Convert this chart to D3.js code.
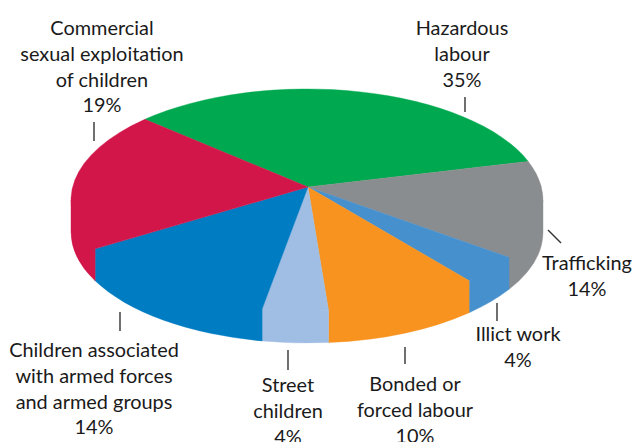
<!DOCTYPE html>
<html><head><meta charset="utf-8">
<script src="https://cdn.jsdelivr.net/npm/d3@7"></script>
<style>html,body{margin:0;padding:0;background:#fff}svg{display:block}</style>
</head><body>
<svg id="c" width="635" height="442"></svg>
<script>
// Clockwise from the green slice.
const categories = ["Hazardous labour","Trafficking","Illict work","Bonded or forced labour","Street children","Children associated with armed forces and armed groups","Commercial sexual exploitation of children"];
// Percentages printed on the chart.
const printedPercent = [35,14,4,10,4,14,19];
// Slice shares as actually drawn in the picture (the artwork differs slightly from its labels).
const drawnShare = [31.4,14.3,4.3,10.6,4.5,14.7,20.2];
const colors = ["#00a94f","#8a8d8f","#4690cd","#f7931e","#a0bee4","#007cc3","#d2164a"];
const labelLines = [["Hazardous","labour"],["Trafficking"],["Illict work"],["Bonded or","forced labour"],["Street","children"],["Children associated","with armed forces","and armed groups"],["Commercial","sexual exploitation","of children"]];

const svg = d3.select("#c");
const x = d3.scaleLinear().domain([-1,1]).range([71,543]);
const y = d3.scaleLinear().domain([-1,1]).range([311,89]);
const depth = 32, apex = [308,187];
const toRad = Math.PI/180;
const pt = a => [x(Math.sin(a)), y(Math.cos(a))];
const rx = x(1)-x(0), ry = y(-1)-y(0);

const pie = d3.pie().sort(null).startAngle(-43.4*toRad).endAngle((360-43.4)*toRad);
const arcs = pie(drawnShare);

// The wall's upper edge is a chord inside the top face, so no seam shows between them.
function wall(a0,a1){
  const s = Math.max(a0, 90*toRad), e = Math.min(a1, 270*toRad);
  if (e <= s) return null;
  const p = pt(s), q = pt(e);
  return `M${p[0]},${p[1]}L${q[0]},${q[1]}L${q[0]},${q[1]+depth}A${rx},${ry} 0 0 0 ${p[0]},${p[1]+depth}Z`;
}
function wedge(a0,a1){
  const p = pt(a0), q = pt(a1), large = (a1-a0) > Math.PI ? 1 : 0;
  return `M${apex[0]},${apex[1]}L${p[0]},${p[1]}A${rx},${ry} 0 ${large} 1 ${q[0]},${q[1]}Z`;
}
// Angles normalised so each slice's wall test works in 0..360 degrees.
const norm = arcs.map(d => {
  let a0 = d.startAngle, a1 = d.endAngle;
  if (a0 < 0 && a1 <= 0) { a0 += 2*Math.PI; a1 += 2*Math.PI; }
  return {a0,a1};
});
svg.append("g").selectAll("path").data(norm.filter(d=>wall(d.a0,d.a1)!==null)).join("path")
  .attr("d",d=>wall(d.a0,d.a1))
  .attr("fill",d=>colors[norm.indexOf(d)])
  .attr("stroke",d=>colors[norm.indexOf(d)]).attr("stroke-width",0.4);
svg.append("g").selectAll("path").data(norm).join("path")
  .attr("d",d=>wedge(d.a0,d.a1))
  .attr("fill",(d,i)=>colors[i])
  .attr("stroke",(d,i)=>colors[i]).attr("stroke-width",0.4);

// Label anchors and leader lines, in slice order.
const labelPos = [[462,35],[587,270],[518,341],[415,391],[288,392],[94,357],[102,35]];
const leaders = [[465,97,465,112],[548,230,561,243],[497,303,497,321],[405,347,405,364],[288,350,288,370],[120,312,120,331],[94,122,94,141]];
svg.append("g").selectAll("line").data(leaders).join("line")
  .attr("x1",d=>d[0]).attr("y1",d=>d[1]).attr("x2",d=>d[2]).attr("y2",d=>d[3])
  .attr("stroke","#333").attr("stroke-width",1.4);
const lh = 25.8;
const t = svg.append("g").attr("font-family","Lato, sans-serif").attr("font-size",19.9).attr("fill","#1a1a1a").attr("text-anchor","middle");
categories.forEach((c,i)=>{
  const lines = labelLines[i].concat([printedPercent[i]+"%"]);
  lines.forEach((s,j)=>{
    t.append("text").attr("x",labelPos[i][0]).attr("y",labelPos[i][1]+j*lh).text(s);
  });
});
</script>
</body></html>
